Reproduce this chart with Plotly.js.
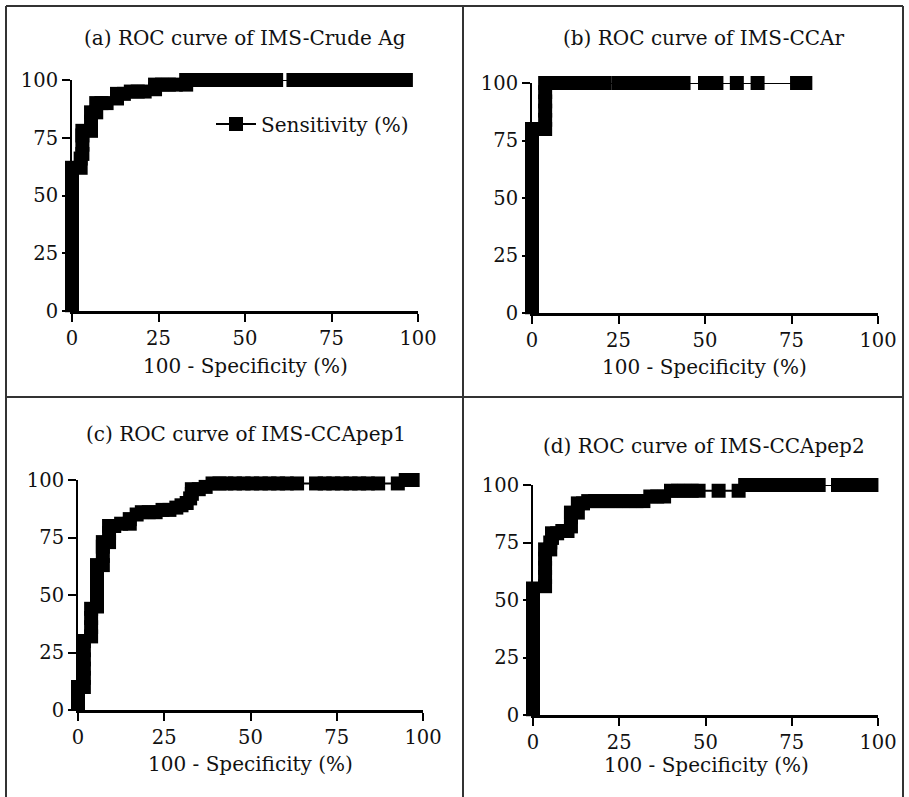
<!DOCTYPE html>
<html>
<head>
<meta charset="utf-8">
<script src="https://cdn.plot.ly/plotly-3.0.1.min.js"></script>
<style>html,body{margin:0;padding:0;background:#fff;}#chart{width:909px;height:797px;}</style>
</head>
<body>
<div id="chart"></div>
<script>
// Panel (a) IMS-Crude Ag
const fprA  = [0,0,0,0,0,0,0,0,0,0,0,0,0,0,0,0,
  2.5,2.5,3,3,3,3,5.5,5.5,5.5,7,7,8.5,10,13,13,15,17,19,21,24,24,26,28,30,
  33,33,35,37.5,40,42.5,45,47.5,50,52.5,55,57,59,
  64,66.5,69,71.5,74,76.5,79,81.5,84,86.5,89,91.5,94,96.5];
const sensA = [2.5,6,10,14,18,22,26,30,34,38,42,46,50,54,58,62,
  62,66,68,72,76,78,78,82,86,86,90,90,90,92,94,94,95,95,95,96,98,98,98,98,
  98,100,100,100,100,100,100,100,100,100,100,100,100,
  100,100,100,100,100,100,100,100,100,100,100,100,100,100];

// Panel (b) IMS-CCAr
const fprB  = [0,0,0,0,0,0,0,0,0,0,0,0,0,0,0,0,0,0,0,0,0,
  1.7,3.8,3.8,3.8,3.8,3.8,3.8,
  6,8,10,12,14,16,18,20,21,
  25,27,29,31,33,35,37,39,41,43.8,
  50,53.3,59.2,65.2,76.6,79];
const sensB = [2.5,6,10,14,18,22,26,30,34,38,42,46,50,54,58,62,66,70,74,78,80,
  80,80,84,88,92,96,100,
  100,100,100,100,100,100,100,100,100,
  100,100,100,100,100,100,100,100,100,100,
  100,100,100,100,100,100];

// Panel (c) IMS-CCApep1
const fprC  = [0,0,0,
  1.7,1.7,1.7,1.7,1.7,1.7,
  3.8,3.8,3.8,3.8,
  5.5,5.5,5.5,5.5,5.5,5.5,
  7.2,7.2,7.2,7.2,
  9,9,9,10.5,
  12.5,15,15,17,
  18.5,20.5,22.5,24.5,26.5,28.5,
  30,31.5,32.5,33,33,35,
  37,39,41,43,45.5,48,50.5,53,55.5,58,60.5,63.5,
  69,71.5,74,76.5,79,81.5,84,87,
  92.7,95,97];
const sensC = [3,6.5,10,
  10,14,18,22,26,30,
  32,36,40,44,
  45,49,53,57,61,63,
  63,67,71,73,
  73,77,80,80,
  81,81,83,85,
  86,86,86,87,87,88,
  89,90,92,94,96,96,
  97,98.5,98.5,98.5,98.5,98.5,98.5,98.5,98.5,98.5,98.5,98.5,
  98.5,98.5,98.5,98.5,98.5,98.5,98.5,98.5,
  98.5,100,100];

// Panel (d) IMS-CCApep2
const fprD  = [0,0,0,0,0,0,0,0,0,0,0,0,0,0,0,
  3.5,3.5,3.5,3.5,3.5,
  5,5,5.5,5.5,
  7,8.5,10,
  11,11,11,13,13,
  14.5,16,18,20,22,24,26,28,30,32,
  34,36,38,
  40,42,44,46,48,
  53.8,59.6,
  61.5,64,66.5,69,71.5,74,76.5,79,81,82.8,
  88.4,91,93.5,96,98.1];
const sensD = [2.5,6,10,14,18,22,26,30,34,38,42,46,50,54,55,
  56,60,64,68,72,
  72,75,77,79,
  79,80,80,
  82,86,88,88,92,
  92,93,93,93,93,93,93,93,93,93,
  95,95,95,
  97.5,97.5,97.5,97.5,97.5,
  97.5,97.5,
  100,100,100,100,100,100,100,100,100,100,
  100,100,100,100,100];

const tickVals = [0,25,50,75,100];
const tickText = ['0','25','50','75','100'];
const panelTitles = ['(a) ROC curve of IMS-Crude Ag','(b) ROC curve of IMS-CCAr',
                     '(c) ROC curve of IMS-CCApep1','(d) ROC curve of IMS-CCApep2'];
const xTitle = '100 - Specificity (%)';
const seriesName = 'Sensitivity (%)';

const FONT = 'DejaVu Serif';
const W = 909, H = 797;
const px = v => v / W;
const py = v => 1 - v / H;

function trace(x, y, xa, ya, showLegend) {
  return {
    x: x, y: y, xaxis: xa, yaxis: ya, type: 'scatter', mode: 'lines+markers',
    name: seriesName, showlegend: showLegend, cliponaxis: false,
    line: {color: '#000', width: 2},
    marker: {symbol: 'square', size: 14, color: '#000'}
  };
}

const data = [
  trace(fprA, sensA, 'x', 'y', true),
  trace(fprB, sensB, 'x2', 'y2', false),
  trace(fprC, sensC, 'x3', 'y3', false),
  trace(fprD, sensD, 'x4', 'y4', false)
];

function xax(d0, d1, anchor) {
  return {domain: [d0, d1], anchor: anchor, range: [0, 100], tickvals: tickVals, ticktext: tickText,
    showgrid: false, zeroline: false, showline: true, linewidth: 3, linecolor: '#000',
    ticks: 'outside', ticklen: 8, tickwidth: 2, tickcolor: '#000',
    tickfont: {family: FONT, size: 19.5, color: '#111'}, fixedrange: true};
}
function yax(d0, d1, anchor) {
  return {domain: [d0, d1], anchor: anchor, range: [0, 100], tickvals: tickVals, ticktext: tickText,
    showgrid: false, zeroline: false, showline: true, linewidth: 2, linecolor: '#000',
    ticks: 'outside', ticklen: 8, tickwidth: 2, tickcolor: '#000',
    tickfont: {family: FONT, size: 19.5, color: '#111'}, fixedrange: true};
}

const ann = (x, y, text) => ({xref: 'paper', yref: 'paper', x: px(x), y: py(y), text: text,
  showarrow: false, xanchor: 'center', yanchor: 'middle', font: {family: FONT, size: 20, color: '#111'}});

const line = (x0, y0, x1, y1) => ({type: 'line', xref: 'paper', yref: 'paper',
  x0: px(x0), y0: py(y0), x1: px(x1), y1: py(y1), line: {color: '#333', width: 2}});

const layout = {
  width: W, height: H, margin: {l: 0, r: 0, t: 0, b: 0},
  paper_bgcolor: '#fff', plot_bgcolor: 'rgba(0,0,0,0)',
  font: {family: FONT, size: 20, color: '#111'},
  xaxis: xax(px(72), px(418), 'y'),
  yaxis: yax(py(311), py(80), 'x'),
  xaxis2: xax(px(532), px(878), 'y2'),
  yaxis2: yax(py(313), py(83), 'x2'),
  xaxis3: xax(px(78), px(423), 'y3'),
  yaxis3: yax(py(710), py(480), 'x3'),
  xaxis4: xax(px(533), px(878), 'y4'),
  yaxis4: yax(py(715), py(485), 'x4'),
  showlegend: true,
  legend: {x: px(211), y: py(124), xanchor: 'left', yanchor: 'middle', bgcolor: 'rgba(0,0,0,0)',
    font: {family: FONT, size: 20, color: '#111'}, itemwidth: 40},
  annotations: [
    ann(245, 38, panelTitles[0]), ann(703, 38, panelTitles[1]),
    ann(246, 434, panelTitles[2]), ann(704, 446, panelTitles[3]),
    ann(245, 366, xTitle), ann(704, 367, xTitle),
    ann(250, 764, xTitle), ann(706, 765, xTitle)
  ],
  shapes: [
    line(6, 6, 903, 6), line(6, 397, 903, 397),
    line(6, 6, 6, 797), line(463, 6, 463, 797), line(903, 6, 903, 797)
  ]
};

Plotly.newPlot('chart', data, layout, {displayModeBar: false, staticPlot: true});
</script>
</body>
</html>
